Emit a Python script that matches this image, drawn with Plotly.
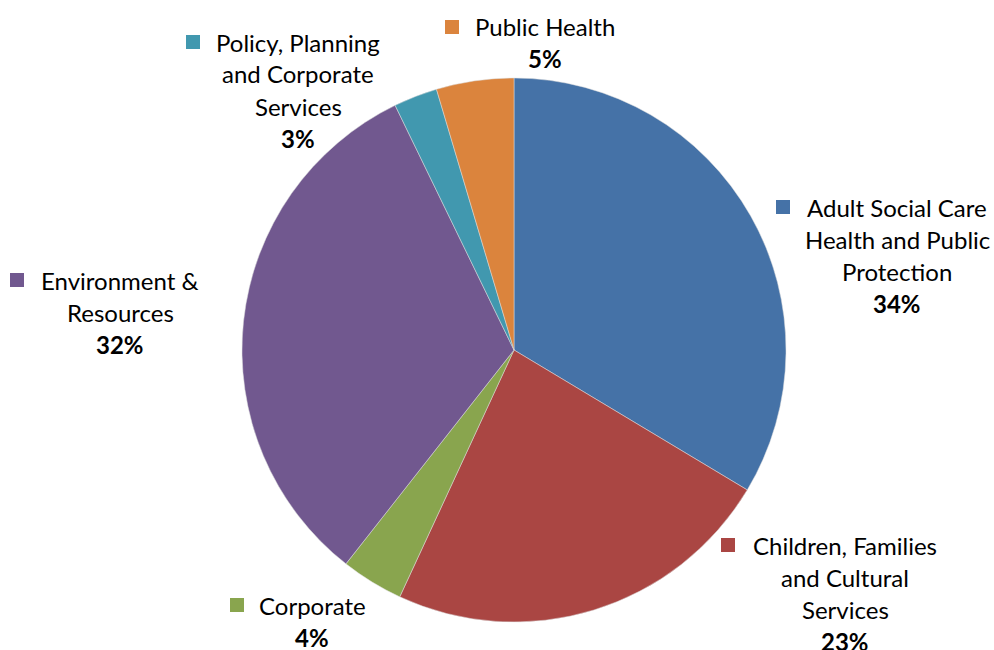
import plotly.graph_objects as go

categories = ["Adult Social Care Health and Public Protection",
              "Children, Families and Cultural Services",
              "Corporate",
              "Environment & Resources",
              "Policy, Planning and Corporate Services",
              "Public Health"]
label_lines = [["Adult Social Care", "Health and Public", "Protection"],
               ["Children, Families", "and Cultural", "Services"],
               ["Corporate"],
               ["Environment &", "Resources"],
               ["Policy, Planning", "and Corporate", "Services"],
               ["Public Health"]]
values = [33.6, 23.3, 3.7, 32.2, 2.6, 4.6]
colors = ["#4572A7", "#AA4643", "#89A54E", "#71588F", "#4198AF", "#DB843D"]

W, H = 994, 650
# label block centre x and first-line y (pixels), square centre x
label_pos = [(897, 207, 783), (845, 545, 728), (312, 605, 237),
             (120, 280, 17), (298, 42, 193), (545, 27, 452)]

cx, cy, r = 514, 350, 272
fig = go.Figure(go.Pie(
    labels=categories, values=values, sort=False, direction="clockwise",
    rotation=0, marker=dict(colors=colors, line=dict(color="#dddddd", width=0.5)),
    textinfo="none", hoverinfo="label+percent", showlegend=False,
    domain=dict(x=[(cx - r) / W, (cx + r) / W], y=[1 - (cy + r) / H, 1 - (cy - r) / H]),
))

total = sum(values)
font = dict(family="Lato, Open Sans, sans-serif", size=24, color="#000000")
lh = 32
for lines, v, col, (lx, ly, sx) in zip(label_lines, values, colors, label_pos):
    pct = "%.0f%%" % (v / total * 100)
    for i, t in enumerate(lines + ["<b>" + pct + "</b>"]):
        fig.add_annotation(x=lx / W, y=1 - (ly + i * lh) / H, xref="paper", yref="paper",
                           text=t, showarrow=False, xanchor="center", yanchor="middle",
                           font=font)
    fig.add_shape(type="rect", xref="paper", yref="paper",
                  x0=(sx - 7) / W, x1=(sx + 7) / W, y0=1 - (ly + 7) / H, y1=1 - (ly - 7) / H,
                  fillcolor=col, line=dict(width=0))

fig.update_layout(width=W, height=H, margin=dict(l=0, r=0, t=0, b=0),
                  paper_bgcolor="white", plot_bgcolor="white")
fig.write_html("out.html")
